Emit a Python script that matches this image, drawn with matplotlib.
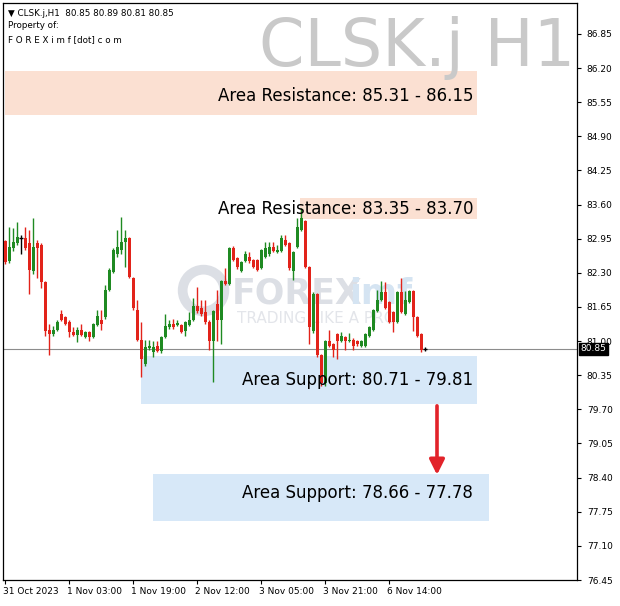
import numpy as np
import matplotlib
matplotlib.use('Agg')
import matplotlib.pyplot as plt
from matplotlib.patches import Rectangle
import matplotlib.transforms as mtransforms

# hourly candles, CLSK.j H1
opens = [82.90, 82.52, 82.78, 82.86, 82.97, 82.97, 82.86, 82.33, 82.86, 82.84,
         82.12, 81.22, 81.13, 81.21, 81.51, 81.45, 81.36, 81.17, 81.11, 81.22,
         81.07, 81.17, 81.07, 81.30, 81.41, 81.45, 81.98, 82.31, 82.65, 82.74,
         82.88, 82.97, 82.21, 81.60, 81.03, 80.56, 80.86, 80.80, 80.90, 80.82,
         81.07, 81.26, 81.32, 81.30, 81.30, 81.19, 81.30, 81.41, 81.66, 81.64,
         81.55, 81.37, 81.00, 81.70, 81.41, 82.14, 82.08, 82.78, 82.59, 82.33,
         82.52, 82.61, 82.55, 82.55, 82.40, 82.61, 82.65, 82.80, 82.69, 82.71,
         82.93, 82.86, 82.33, 82.80, 83.12, 83.28, 82.42, 81.19, 81.89, 80.73,
         80.20, 81.00, 80.94, 81.13, 81.00, 81.07, 81.00, 81.03, 81.00, 80.90,
         80.90, 81.09, 81.22, 81.57, 81.79, 81.93, 81.74, 81.55, 81.37, 81.93,
         81.51, 81.75, 81.95, 81.45, 81.13, 80.85]
highs = [82.93, 83.18, 83.16, 83.26, 83.03, 83.18, 83.12, 83.35, 82.93, 82.86,
         82.14, 81.32, 81.28, 81.41, 81.60, 81.47, 81.41, 81.26, 81.26, 81.32,
         81.19, 81.19, 81.34, 81.60, 81.60, 82.07, 82.40, 82.78, 83.12, 83.37,
         83.12, 82.99, 82.23, 81.79, 81.37, 81.03, 81.03, 81.00, 81.00, 81.09,
         81.51, 81.41, 81.43, 81.41, 81.32, 81.38, 81.55, 81.83, 82.04, 81.79,
         81.79, 81.41, 81.60, 81.98, 82.17, 82.40, 82.80, 82.82, 82.61, 82.52,
         82.72, 82.70, 82.57, 82.57, 82.76, 82.88, 82.88, 82.88, 82.84, 83.03,
         83.03, 82.88, 82.71, 83.35, 83.54, 83.30, 82.44, 81.93, 81.91, 80.75,
         81.03, 81.22, 80.96, 81.15, 81.17, 81.09, 81.15, 81.05, 81.02, 81.02,
         81.15, 81.28, 81.62, 81.98, 82.14, 82.12, 81.76, 81.57, 81.95, 82.21,
         81.95, 81.98, 81.97, 81.47, 81.15, 80.89]
lows = [82.46, 82.48, 82.71, 82.84, 82.65, 82.74, 81.89, 82.28, 82.21, 82.02,
        81.09, 80.73, 81.09, 81.19, 81.39, 81.30, 81.07, 81.09, 80.98, 81.09,
        81.05, 81.00, 81.05, 81.28, 81.22, 81.43, 81.96, 82.29, 82.61, 82.65,
        82.42, 82.21, 81.60, 81.00, 80.31, 80.52, 80.84, 80.69, 80.80, 80.78,
        81.05, 81.24, 81.24, 81.28, 81.15, 81.09, 81.28, 81.39, 81.53, 81.47,
        81.32, 80.84, 80.23, 81.00, 80.94, 82.06, 82.06, 82.52, 82.38, 82.31,
        82.50, 82.48, 82.40, 82.33, 82.38, 82.59, 82.63, 82.69, 82.67, 82.69,
        82.82, 82.36, 82.17, 82.78, 83.10, 82.40, 80.94, 81.15, 80.69, 80.14,
        80.14, 80.88, 80.69, 80.65, 80.98, 80.84, 80.98, 80.84, 80.90, 80.88,
        80.88, 81.07, 81.20, 81.55, 81.77, 81.62, 81.35, 81.17, 81.35, 81.53,
        81.49, 81.73, 81.19, 81.07, 80.80, 80.81]
closes = [82.50, 82.80, 82.88, 82.99, 82.97, 82.78, 82.36, 82.80, 82.78, 82.12,
          81.19, 81.13, 81.22, 81.36, 81.41, 81.32, 81.17, 81.11, 81.22, 81.11,
          81.17, 81.07, 81.32, 81.47, 81.32, 81.98, 82.36, 82.74, 82.80, 82.88,
          82.97, 82.23, 81.64, 81.03, 80.65, 80.88, 80.90, 80.88, 80.82, 81.07,
          81.28, 81.32, 81.26, 81.34, 81.17, 81.36, 81.41, 81.66, 81.57, 81.51,
          81.36, 81.00, 81.57, 81.41, 82.14, 82.08, 82.78, 82.55, 82.42, 82.50,
          82.65, 82.52, 82.42, 82.36, 82.74, 82.78, 82.80, 82.71, 82.74, 82.97,
          82.84, 82.40, 82.69, 83.18, 83.35, 82.42, 81.26, 81.89, 80.73, 80.20,
          81.00, 80.90, 80.84, 81.00, 81.09, 81.00, 81.03, 80.90, 80.94, 81.00,
          81.13, 81.26, 81.60, 81.79, 81.93, 81.64, 81.37, 81.37, 81.93, 81.55,
          81.79, 81.95, 81.45, 81.09, 80.84, 80.85]

time_labels = ['31 Oct 2023', '1 Nov 03:00', '1 Nov 19:00', '2 Nov 12:00',
               '3 Nov 05:00', '3 Nov 21:00', '6 Nov 14:00']
time_label_bars = [0, 16, 32, 48, 64, 80, 96]
price_ticks = [76.45, 77.10, 77.75, 78.40, 79.05, 79.70, 80.35, 81.00, 81.65,
               82.30, 82.95, 83.60, 84.25, 84.90, 85.55, 86.20, 86.85]
last_price = 80.85

resistance_zones = [(85.31, 86.15), (83.35, 83.70)]
support_zones = [(80.71, 79.81), (78.66, 77.78)]

o = np.array(opens)
h = np.array(highs)
l = np.array(lows)
c = np.array(closes)
x = np.arange(len(o))

GREEN = '#1f8a22'
RED = '#e2231a'
colors = np.where(c > o, GREEN, np.where(c < o, RED, 'black'))

W, H = 620, 606
fig = plt.figure(figsize=(W / 100, H / 100), dpi=100)
fig.patch.set_facecolor('white')
ax = fig.add_axes([3 / W, (H - 580) / H, 574 / W, 577 / H])
ax.set_xlim(-0.5, 143)
ax.set_ylim(76.47, 87.44)

# zones (box positions picked to match the drawn objects)
ax.add_patch(Rectangle((0, 85.31), 118, 0.84, color='#fbe0d2', lw=0, zorder=1))
ax.add_patch(Rectangle((73.8, 83.33), 44.2, 0.40, color='#fbe0d2', lw=0, zorder=1))
ax.add_patch(Rectangle((34, 79.81), 84, 0.91, color='#d7e8f8', lw=0, zorder=1))
ax.add_patch(Rectangle((37, 77.57), 84, 0.90, color='#d7e8f8', lw=0, zorder=1))

# watermark logo
ax.plot([49.5], [81.98], marker='o', markersize=30, markerfacecolor='none',
        markeredgecolor='#dcdfe5', markeredgewidth=7, zorder=1)
ax.text(56.8, 81.90, 'FOREX', fontsize=25, fontweight='bold', color='#dcdfe5',
        va='center', ha='left', zorder=1)
ax.text(86.0, 81.90, 'imf', fontsize=25, fontweight='bold', color='#d5e4f2',
        va='center', ha='left', zorder=1)
ax.text(58.0, 81.43, 'TRADING LIKE A PRO', fontsize=11, color='#e3e5ea',
        va='center', ha='left', zorder=1)

# last price line
ax.axhline(last_price, color='#8c8c8c', lw=0.8, zorder=2)

# candles
ax.vlines(x, l, h, colors=colors, lw=1.0, zorder=3)
ax.bar(x, np.abs(c - o), bottom=np.minimum(o, c), width=0.75, color=colors,
       lw=0, zorder=4)
doji = o == c
ax.hlines(o[doji], x[doji] - 0.45, x[doji] + 0.45, colors='black', lw=1, zorder=4)

# zone labels
zone_font = dict(fontsize=12, family='DejaVu Sans', color='black', zorder=5,
                 va='center', ha='right')
ax.text(117, 85.66, 'Area Resistance: %.2f - %.2f' % resistance_zones[0], **zone_font)
ax.text(117, 83.51, 'Area Resistance: %.2f - %.2f' % resistance_zones[1], **zone_font)
ax.text(117, 80.25, 'Area Support: %.2f - %.2f' % support_zones[0], **zone_font)
ax.text(117, 78.10, 'Area Support: %.2f - %.2f' % support_zones[1], **zone_font)

# arrow
ax.annotate('', xy=(108, 78.40), xytext=(108, 79.82),
            arrowprops=dict(arrowstyle='-|>,head_width=0.45,head_length=0.9',
                            color='#e2232a', lw=2.6), zorder=6)

# big symbol watermark
ax.text(0.997, 0.978, 'CLSK.j H1', transform=ax.transAxes, fontsize=47,
        color='#c9c9c9', ha='right', va='top', zorder=2)

# header info
ax.text(0.008, 0.990, '\u25bc CLSK.j,H1  80.85 80.89 80.81 80.85', transform=ax.transAxes,
        fontsize=6.3, ha='left', va='top', zorder=6)
ax.text(0.008, 0.968, 'Property of:', transform=ax.transAxes,
        fontsize=6.3, ha='left', va='top', zorder=6)
ax.text(0.008, 0.945, 'F O R E X i m f [dot] c o m', transform=ax.transAxes,
        fontsize=6.3, ha='left', va='top', zorder=6)

# axes
ax.yaxis.tick_right()
ax.set_yticks(price_ticks)
ax.set_yticklabels(['%.2f' % p for p in price_ticks])
ax.set_xticks(time_label_bars)
ax.set_xticklabels(time_labels, ha='left')
ax.tick_params(axis='both', direction='out', length=3, width=0.8, labelsize=6.5,
               colors='black', pad=2)
ax.tick_params(axis='y', pad=4)
for lab in ax.get_xticklabels():
    lab.set_transform(lab.get_transform() + mtransforms.ScaledTranslation(-2 / 100, 0, fig.dpi_scale_trans))
for s in ax.spines.values():
    s.set_linewidth(0.9)

# current price tag
trans = mtransforms.blended_transform_factory(ax.transAxes, ax.transData)
ax.text(1.006, last_price, '80.85', transform=trans, fontsize=6.5, color='white',
        va='center', ha='left', zorder=7,
        bbox=dict(boxstyle='square,pad=0.2', facecolor='black', edgecolor='black'))

fig.savefig('out.png', dpi=100)
